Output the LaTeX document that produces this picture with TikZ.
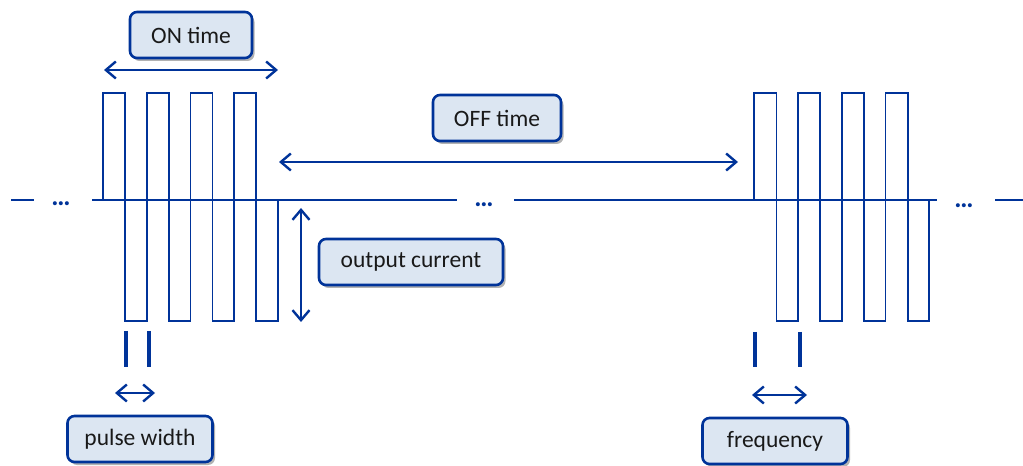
\documentclass[tikz,border=0pt]{standalone}
\usepackage{fontspec}
\setmainfont{Carlito}
\usetikzlibrary{arrows.meta,shadows}
\definecolor{wave}{RGB}{0,51,153}
\definecolor{tagfill}{RGB}{220,230,242}
\begin{document}
\begin{tikzpicture}[x=1bp, y=-1bp,
              sig/.style = {draw=wave, line width=1.8bp},
              axis/.style = {draw=wave, line width=2.4bp},
              span/.style = {draw=wave, line width=2.4bp,
                {Straight Barb[length=10bp,width=17bp]}-{Straight Barb[length=10bp,width=17bp]}},
              tickmark/.style = {draw=wave, line width=3.6bp},
              tag/.style = {draw=wave, line width=2.6bp, fill=tagfill,
                rounded corners=7bp, minimum height=46bp, text=black!90,
                font=\fontsize{23.5bp}{28bp}\selectfont,
                drop shadow={shadow xshift=2.5bp, shadow yshift=-3bp, opacity=0.3, fill=black}},
              gap/.style = {text=wave, inner sep=0pt, font=\fontsize{27bp}{30bp}\selectfont\bfseries}
            ]
            \useasboundingbox (0,0) rectangle (1023,466);

            % zero line, broken where time is skipped
            \draw[axis] (11,200) -- (34,200);
            \draw[axis] (92,200) -- (457,200);
            \draw[axis] (514,200) -- (937,200);
            \draw[axis] (995,200) -- (1023,200);
            \node[gap] (skip1) at (61,203.5) {\ldots};
            \node[gap] (skip2) at (484,205) {\ldots};
            \node[gap] (skip3) at (964,206) {\ldots};

            % first burst
            \foreach \k in {0,...,3} {
              \draw[sig] ({103+43.75*\k},93) rectangle ({124.9+43.75*\k},200);
              \draw[sig] ({124.9+43.75*\k},200) rectangle ({146.75+43.75*\k},321);
            }
            % second burst
            \foreach \k in {0,...,3} {
              \draw[sig] ({754+43.8*\k},93) rectangle ({776.5+43.8*\k},200);
              \draw[sig] ({776.5+43.8*\k},200) rectangle ({797.8+43.8*\k},321);
            }

            % ON time
            \coordinate (on-l) at (104,70);
            \coordinate (on-r) at (278,70);
            \draw[span] (on-l) -- (on-r);
            \node[tag, minimum width=122bp] (ontime) at (191,35) {ON time};

            % OFF time
            \coordinate (off-l) at (279,162);
            \coordinate (off-r) at (738,162);
            \draw[span] (off-l) -- (off-r);
            \node[tag, minimum width=128bp] (offtime) at (497,118) {OFF time};

            % amplitude
            \coordinate (amp-t) at (301,208);
            \coordinate (amp-b) at (301,322);
            \draw[span] (amp-t) -- (amp-b);
            \node[tag, minimum width=184bp] (current) at (411,262) {output current};

            % pulse width
            \coordinate (pw-a) at (126,331);
            \coordinate (pw-b) at (149,331);
            \draw[tickmark] (pw-a) -- ++(0,36);
            \draw[tickmark] (pw-b) -- ++(0,36);
            \coordinate (pw-l) at (115,393);
            \coordinate (pw-r) at (155,393);
            \draw[span] (pw-l) -- (pw-r);
            \node[tag, minimum width=145bp] (width) at (140,439) {pulse width};

            % frequency
            \coordinate (fq-a) at (755,332);
            \coordinate (fq-b) at (800,332);
            \draw[tickmark] (fq-a) -- ++(0,35);
            \draw[tickmark] (fq-b) -- ++(0,35);
            \coordinate (fq-l) at (752,395);
            \coordinate (fq-r) at (807,395);
            \draw[span] (fq-l) -- (fq-r);
            \node[tag, minimum width=145bp] (freq) at (775,441) {frequency};
          \end{tikzpicture}
\end{document}
